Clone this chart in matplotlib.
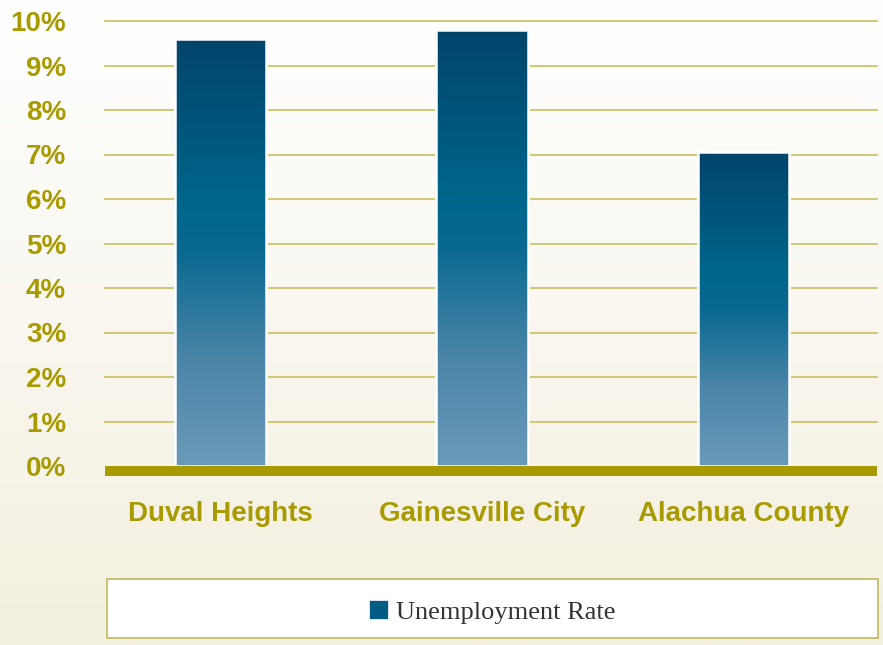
import numpy as np
import matplotlib
matplotlib.use("Agg")
import matplotlib.pyplot as plt
from matplotlib.colors import LinearSegmentedColormap, to_rgb
from matplotlib.patches import Rectangle, Patch

# ---- data ----
categories = ["Duval Heights", "Gainesville City", "Alachua County"]
unemployment_rate = [9.6, 9.8, 7.05]
y_ticks = [0, 1, 2, 3, 4, 5, 6, 7, 8, 9, 10]
y_tick_labels = [f"{t}%" for t in y_ticks]
series_name = "Unemployment Rate"

W, H = 883, 645
fig = plt.figure(figsize=(W / 100, H / 100), dpi=100)

# background gradient
bg = fig.add_axes([0, 0, 1, 1], zorder=-10)
top = np.array(to_rgb("#FFFFFF"))
bot = np.array(to_rgb("#F3EFDF"))
t = np.linspace(0, 1, 256)[:, None]
grad = top[None, :] * (1 - t) + bot[None, :] * t
bg.imshow(grad[:, None, :], aspect="auto", extent=[0, 1, 0, 1], origin="upper")
bg.set_xlim(0, 1); bg.set_ylim(0, 1)
bg.axis("off")

olive = "#A89A00"
grid_col = "#CDC46A"

ax = fig.add_axes([105 / W, (H - 466) / H, 772 / W, 445 / H])
ax.patch.set_alpha(0)
x = np.arange(len(categories))

for yv in y_ticks[1:]:
    ax.axhline(yv, color=grid_col, lw=1.3, zorder=1, clip_on=False)

cmap = LinearSegmentedColormap.from_list(
    "bar", [(0.0, "#6B9AB9"), (0.25, "#4A85A8"), (0.5, "#0A6990"),
            (0.62, "#00658A"), (1.0, "#02446A")])
bw = 0.35
bars = ax.bar(x, unemployment_rate, width=bw, color="#00608A",
              edgecolor="white", linewidth=1.8, zorder=2)
gimg = np.linspace(1, 0, 256)[:, None]
for b in bars:
    x0, y0 = b.get_x(), b.get_y()
    w, h = b.get_width(), b.get_height()
    im = ax.imshow(gimg, cmap=cmap, vmin=0, vmax=1, aspect="auto",
                   extent=[x0, x0 + w, y0, y0 + h], zorder=3)
    clip = Rectangle((x0, y0), w, h, transform=ax.transData)
    im.set_clip_path(clip)
    b2 = Rectangle((x0, y0), w, h, facecolor="none", edgecolor="white",
                   lw=1.8, zorder=4)
    ax.add_patch(b2)
ax.set_xlim(-0.4407, 2.510)
ax.set_ylim(0, 10)

# thick baseline
ax.axhspan(-0.225, 0, color=olive, lw=0, zorder=5, clip_on=False)

for s in ax.spines.values():
    s.set_visible(False)
ax.set_yticks(y_ticks)
ax.set_yticklabels(y_tick_labels)
ax.set_xticks(x)
ax.set_xticklabels(categories)
ax.tick_params(axis="y", length=0, pad=28)
ax.tick_params(axis="x", length=0, pad=25)
for lab in ax.get_yticklabels() + ax.get_xticklabels():
    lab.set_fontfamily("Liberation Sans")
    lab.set_fontweight("bold")
    lab.set_fontsize(20)
    lab.set_color(olive)

# legend box
fig.patches.append(Rectangle((106.5 / W, (H - 638) / H), 771.5 / W, 59 / H,
                             transform=fig.transFigure, facecolor="white",
                             edgecolor="#C2B95A", lw=1.2, zorder=1))
handle = Patch(facecolor="#005C82", edgecolor="white", lw=0.5, label=series_name)
leg = fig.legend(handles=[handle], loc="center",
                 bbox_to_anchor=(492 / W, (H - 612) / H),
                 frameon=False, prop={"family": "Liberation Serif", "size": 19},
                 handlelength=0.72, handleheight=0.72, handletextpad=0.3)
for txt in leg.get_texts():
    txt.set_color("#333333")

fig.savefig("out.png", dpi=100)
